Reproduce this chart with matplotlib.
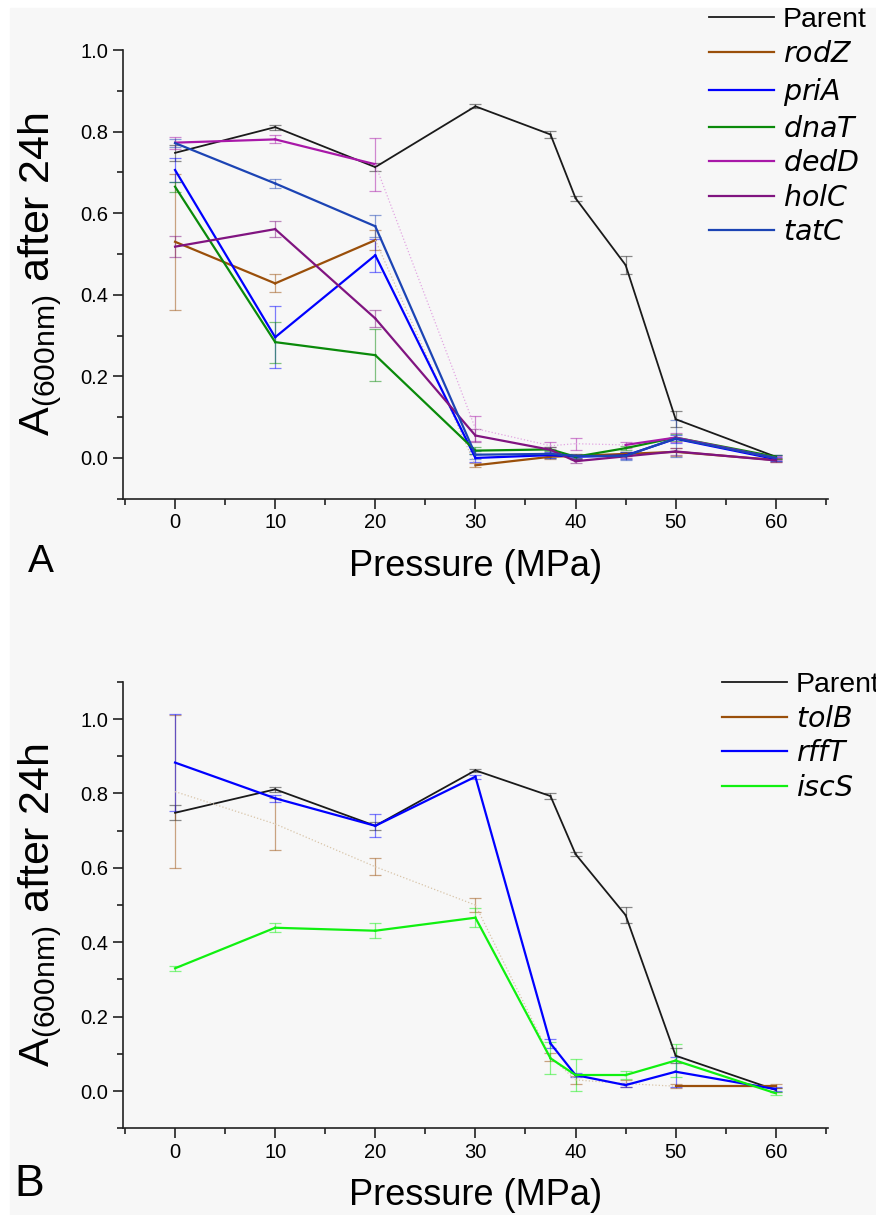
import matplotlib
matplotlib.use("Agg")
import matplotlib.pyplot as plt
from matplotlib.lines import Line2D
from matplotlib.patches import Rectangle
from matplotlib.ticker import MultipleLocator

plt.rcParams['font.family'] = ['Liberation Sans', 'DejaVu Sans']
plt.rcParams['mathtext.fontset'] = 'custom'
plt.rcParams['mathtext.rm'] = 'Liberation Sans'

# pressure (MPa)
pressure = [0, 10, 20, 30, 37.5, 40, 45, 50, 60]

parent = [0.748, 0.811, 0.713, 0.862, 0.793, 0.637, 0.473, 0.095, 0.003]
parent_err = [0.02, 0.006, 0.01, 0.005, 0.008, 0.006, 0.022, 0.02, 0.005]

# panel A
rodZ = [0.530, 0.428, 0.534, -0.018, 0.003, 0.005, 0.010, 0.015, -0.005]
rodZ_err = [0.167, 0.022, 0.024, 0.005, 0.005, 0.005, 0.005, 0.01, 0.005]
priA = [0.706, 0.296, 0.497, 0.000, 0.007, 0.003, 0.006, 0.047, -0.003]
priA_err = [0.03, 0.076, 0.04, 0.01, 0.008, 0.005, 0.008, 0.01, 0.005]
dnaT = [0.665, 0.284, 0.252, 0.018, 0.021, 0.003, 0.024, 0.050, 0.003]
dnaT_err = [0.012, 0.05, 0.063, 0.008, 0.005, 0.005, 0.005, 0.008, 0.005]
dedD = [0.773, 0.781, 0.720, 0.072, 0.030, 0.035, 0.032, 0.050, 0.000]
dedD_err = [0.015, 0.01, 0.065, 0.03, 0.008, 0.015, 0.007, 0.01, 0.005]
holC = [0.518, 0.561, 0.342, 0.055, 0.020, -0.008, 0.004, 0.016, -0.006]
holC_err = [0.025, 0.02, 0.02, 0.015, 0.008, 0.005, 0.005, 0.008, 0.005]
tatC = [0.772, 0.673, 0.568, 0.008, 0.010, 0.005, 0.005, 0.048, 0.000]
tatC_err = [0.01, 0.01, 0.027, 0.01, 0.01, 0.005, 0.01, 0.045, 0.008]

# panel B
tolB = [0.805, 0.718, 0.603, 0.500, 0.092, 0.030, 0.020, 0.013, 0.013]
tolB_err = [0.205, 0.07, 0.023, 0.018, 0.01, 0.01, 0.01, 0.005, 0.005]
rffT = [0.883, 0.787, 0.713, 0.845, 0.128, 0.043, 0.016, 0.052, 0.005]
rffT_err = [0.131, 0.01, 0.031, 0.005, 0.012, 0.005, 0.006, 0.04, 0.005]
iscS = [0.330, 0.439, 0.431, 0.466, 0.088, 0.043, 0.043, 0.082, -0.006]
iscS_err = [0.006, 0.012, 0.02, 0.025, 0.043, 0.043, 0.01, 0.045, 0.004]

# segments drawn faint/dotted in the original (index of segment start)
faded = {"rodZ": [2], "dedD": [2, 3, 4, 5], "tolB": [0, 1, 2, 3, 4, 5, 6]}
faint_col = {"rodZ": "#d8c4a8", "dedD": "#e2a6e2", "tolB": "#d8c4a8"}

series_a = [
    ("Parent", parent, parent_err, "#1a1a1a", 1.3),
    ("rodZ", rodZ, rodZ_err, "#9a4f0a", 1.6),
    ("priA", priA, priA_err, "#0000ff", 1.6),
    ("dnaT", dnaT, dnaT_err, "#0a8a0a", 1.6),
    ("dedD", dedD, dedD_err, "#a818a8", 1.6),
    ("holC", holC, holC_err, "#801480", 1.6),
    ("tatC", tatC, tatC_err, "#1c44b4", 1.6),
]
series_b = [
    ("Parent", parent, parent_err, "#1a1a1a", 1.3),
    ("tolB", tolB, tolB_err, "#9a4f0a", 1.6),
    ("rffT", rffT, rffT_err, "#0000ff", 1.6),
    ("iscS", iscS, iscS_err, "#10f010", 1.6),
]

bg = "#f7f7f7"
fig = plt.figure(figsize=(8.76, 12.15), dpi=100, facecolor="white")
fig.patches.append(Rectangle((10 / 876, 0), 1, 1 - 8 / 1215,
                             transform=fig.transFigure, color=bg, zorder=-10))

ax_a = fig.add_axes([0.1404, 0.5895, 0.8046, 0.3693])
ax_b = fig.add_axes([0.1404, 0.0714, 0.8046, 0.3674])


def draw(ax, series, ylim):
    handles = []
    for name, y, err, col, lw in series:
        ax.errorbar(pressure, y, yerr=err, fmt="none", ecolor=col, alpha=0.5,
                    elinewidth=0.9, capsize=4, capthick=0.9, zorder=2)
        for i in range(len(pressure) - 1):
            xs = pressure[i:i + 2]
            ys = y[i:i + 2]
            if i in faded.get(name, []):
                ax.plot(xs, ys, color=faint_col[name], lw=0.9, ls=":", zorder=3)
            else:
                ax.plot(xs, ys, color=col, lw=lw, zorder=3)
        handles.append(Line2D([], [], color=col, lw=lw,
                              label=name if name == "Parent" else "$\\it{%s}$" % name))
    ax.set_xlim(-5.2, 65.2)
    ax.set_ylim(*ylim)
    ax.set_facecolor(bg)
    for s in ["top", "right"]:
        ax.spines[s].set_visible(False)
    for s in ["left", "bottom"]:
        ax.spines[s].set_linewidth(1.2)
        ax.spines[s].set_color("#222222")
    ax.xaxis.set_major_locator(MultipleLocator(10))
    ax.xaxis.set_minor_locator(MultipleLocator(5))
    ax.yaxis.set_minor_locator(MultipleLocator(0.1))
    ax.set_yticks([0, 0.2, 0.4, 0.6, 0.8, 1.0])
    ax.yaxis.set_major_formatter(matplotlib.ticker.FormatStrFormatter("%.1f"))
    ax.tick_params(which="major", length=7, width=1.2, labelsize=14.5, color="#222222")
    ax.tick_params(which="minor", length=4, width=1.2, color="#222222")
    ax.set_xlabel("Pressure (MPa)", fontsize=26, labelpad=12)
    ax.set_ylabel(r"A$_{\mathregular{(600nm)}}$ after 24h", fontsize=31, labelpad=12)
    return handles


h_a = draw(ax_a, series_a, (-0.1, 1.0))
h_b = draw(ax_b, series_b, (-0.1, 1.1))

leg_kw = dict(loc="upper left", frameon=False, fontsize=20.5, handlelength=2.3,
              handletextpad=0.3, labelspacing=0.3, borderpad=0, borderaxespad=0)
fig.legend(handles=h_a, bbox_to_anchor=(709 / 876, 1 - 7 / 1215), **leg_kw)
fig.legend(handles=h_b, bbox_to_anchor=(722 / 876, 1 - 672 / 1215), **leg_kw)

fig.text(28 / 876, 1 - 562 / 1215, "A", fontsize=28, va="center", ha="left")
fig.text(14 / 876, 1 - 1184 / 1215, "B", fontsize=32, va="center", ha="left")

fig.savefig("out.png", dpi=100, facecolor=fig.get_facecolor())
